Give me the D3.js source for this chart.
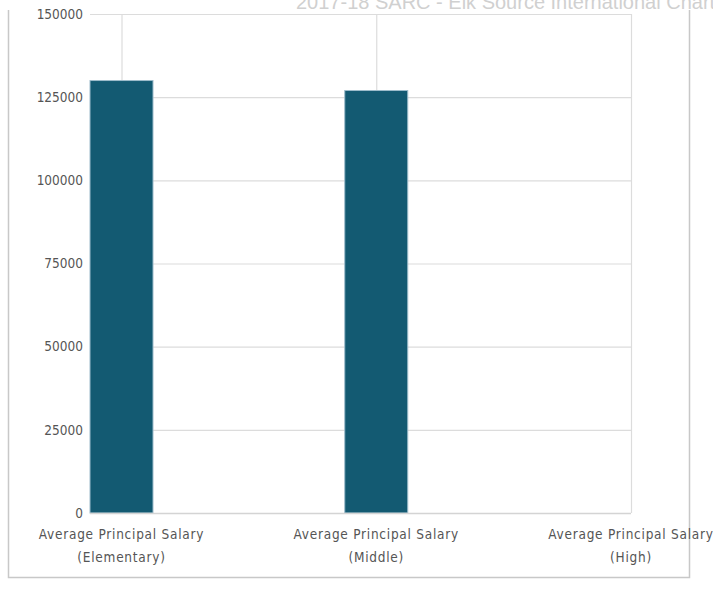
<!DOCTYPE html>
<html><head><meta charset="utf-8">
<script src="https://cdn.jsdelivr.net/npm/d3@7"></script>
<style>body{margin:0;background:#fff;overflow:hidden}svg{display:block}</style>
</head><body>
<svg id="c" width="713" height="593"></svg>
<script>
const categories = [["Average Principal Salary","(Elementary)"],["Average Principal Salary","(Middle)"],["Average Principal Salary","(High)"]];
const values = [130000, 127000, null];
const yTicks = [0, 25000, 50000, 75000, 100000, 125000, 150000];
const title = "2017-18 SARC - Elk Source International Chart";

const svg = d3.select("#c");
const plotL = 90, plotR = 631, plotT = 14, plotB = 513, barW = 63;
const tickFont = "DejaVu Sans Condensed, DejaVu Sans, Verdana, sans-serif";

// frame
svg.append("path").attr("d", "M8.5,10 V577.5 H689.5 V10").attr("fill","none").attr("stroke","#c8c8c8").attr("stroke-width",1.5);

svg.append("text").attr("x", 296).attr("y", 9).attr("font-family","Liberation Sans, Arial, sans-serif")
  .attr("font-size", 20).attr("fill","#d0d0d0").text(title);

const x = d3.scalePoint().domain(d3.range(categories.length)).range([plotL + barW/2, plotR]);
const y = d3.scaleLinear().domain([0,150000]).range([plotB, plotT]);

// horizontal gridlines
svg.append("g").selectAll("line").data(yTicks).join("line")
  .attr("x1", plotL).attr("x2", plotR).attr("y1", d=>y(d)+0.5).attr("y2", d=>y(d)+0.5)
  .attr("stroke","#dcdcdc").attr("stroke-width",1.2);
// vertical gridlines
svg.append("g").selectAll("line").data(d3.range(categories.length)).join("line")
  .attr("x1", d=>x(d)+0.5).attr("x2", d=>x(d)+0.5).attr("y1", plotT).attr("y2", plotB)
  .attr("stroke","#dcdcdc").attr("stroke-width",1.2);

// bars
svg.append("g").selectAll("rect").data(values.map((v,i)=>({v,i})).filter(d=>d.v!=null)).join("rect")
  .attr("x", d=>x(d.i)-barW/2).attr("width", barW)
  .attr("y", d=>y(d.v)).attr("height", d=>plotB - y(d.v))
  .attr("fill","#135a72").attr("stroke","#9dbccb").attr("stroke-width",1);

// bottom axis line
svg.append("line").attr("x1",plotL).attr("x2",plotR).attr("y1",plotB+0.5).attr("y2",plotB+0.5)
  .attr("stroke","#d4d4d4").attr("stroke-width",1.5);

// y axis labels
const yAxis = d3.axisLeft(y).tickValues(yTicks).tickSize(0).tickPadding(0).tickFormat(d3.format("d"));
const ga = svg.append("g").attr("transform","translate(83,0)").call(yAxis);
ga.select(".domain").remove();
ga.selectAll("text").attr("font-family",tickFont).attr("font-size",13.5).attr("fill","#555");

// x labels
const xl = svg.append("g").selectAll("text").data(categories.map((c,i)=>({c,i}))).join("text")
  .attr("text-anchor","middle").attr("font-family",tickFont).attr("font-size",13.5).attr("fill","#555")
  .attr("letter-spacing", 0.75);
xl.each(function(d){
  const t = d3.select(this);
  d.c.forEach((line,k)=>{
    t.append("tspan").attr("x", x(d.i)).attr("y", 539 + k*23).text(line);
  });
});
</script>
</body></html>
